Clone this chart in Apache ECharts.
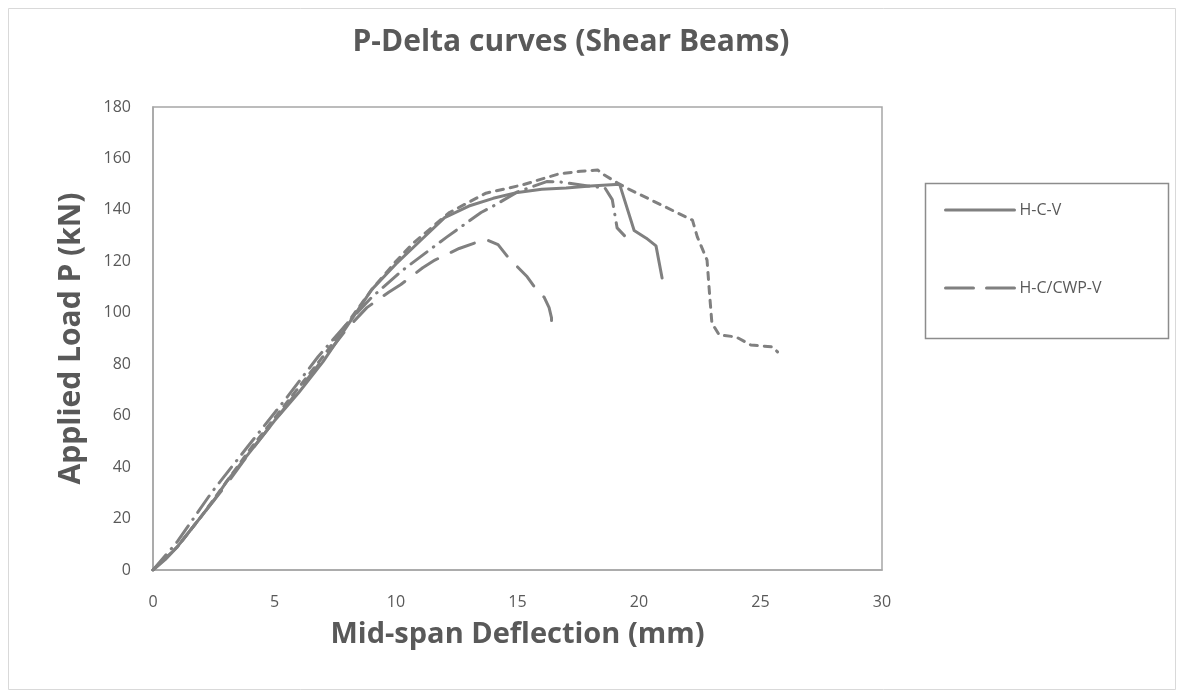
<!DOCTYPE html>
<html>
<head>
<meta charset="utf-8">
<script src="https://cdn.jsdelivr.net/npm/echarts@6/dist/echarts.min.js"></script>
<style>
  html, body { margin: 0; padding: 0; background: #fff; }
  #chart-container { width: 1184px; height: 696px; }
</style>
</head>
<body>
<div id="chart-container"></div>
<script>
// Mid-span deflection (mm) vs applied load (kN)
var hcv = [
  [0, 0], [0.5, 4], [1, 9], [1.5, 15], [2, 21], [2.5, 27], [3, 34], [3.5, 40],
  [4, 46], [4.5, 52], [5, 58], [6, 69], [7, 81], [8, 95], [9, 109], [10, 119],
  [11, 128], [12, 137], [13, 141.5], [14, 144.5], [15, 146.8], [16, 148],
  [17, 148.5], [18, 149.3], [19.2, 150], [19.8, 132], [20.3, 129], [20.7, 126],
  [20.95, 113.5]
];
var hcCwpV = [
  [0, 0], [1, 9], [2, 21], [3, 33], [4, 46], [5, 58], [6, 70], [7, 82], [8, 94],
  [8.8, 102], [9.7, 108], [10.2, 111], [11.1, 117.5], [11.6, 120.5], [12.6, 125],
  [13.2, 127], [13.7, 128.5], [14.2, 126.5], [14.6, 121.7], [15.4, 114],
  [15.7, 110], [16.1, 106], [16.3, 102], [16.4, 98], [16.4, 92]
];
var dashDot = [
  [0, 0], [1, 11], [2.4, 30], [3.9, 48], [5.5, 67], [6.8, 83], [8, 96], [9, 106],
  [10.2, 116], [11.6, 126], [12.1, 129.5], [13.5, 139], [14.1, 142], [15, 147],
  [16.2, 151], [16.8, 150.8], [17.9, 149.3], [18.6, 148.5], [18.9, 144],
  [19.1, 133], [19.4, 130]
];
var shortDash = [
  [0, 0], [1, 9], [2, 21], [3, 34], [4, 47], [5, 59], [6, 71], [7, 83], [8, 96],
  [9, 109], [10, 120], [10.7, 127], [12.2, 139], [13.7, 146.5], [15.2, 149.7],
  [16.7, 154], [17.6, 155], [18.3, 155.5], [18.5, 154], [19.2, 150], [19.6, 148],
  [22.2, 136], [22.4, 129.5], [22.8, 120.5], [22.9, 107.7], [23.0, 96],
  [23.3, 91.4], [24.0, 90.6], [24.6, 87.5], [25.5, 86.7], [25.7, 84.8]
];
var legendNames = ['H-C-V', 'H-C/CWP-V'];

var grey = '#808080';
var textColor = '#595959';
var font = '"Open Sans", sans-serif';

function lineSeries(name, data, dash) {
  return {
    name: name,
    type: 'line',
    data: data,
    symbol: 'none',
    smooth: false,
    lineStyle: { color: grey, width: 3, type: dash, cap: 'round', join: 'round' },
    itemStyle: { color: grey }
  };
}

var myChart = echarts.init(document.getElementById('chart-container'));

var option = {
  backgroundColor: '#fff',
  animation: false,
  title: {
    text: 'P-Delta curves (Shear Beams)',
    left: 566,
    top: 22,
    textAlign: 'center',
    textStyle: { color: textColor, fontSize: 30, fontWeight: 'bold', fontFamily: font }
  },
  legend: {
    data: [
      { name: legendNames[0], lineStyle: { type: 'solid', width: 3, color: grey, cap: 'round' } },
      { name: legendNames[1], lineStyle: { type: [28, 13], width: 3, color: grey, cap: 'round' } }
    ],
    orient: 'vertical',
    left: 939,
    top: 197,
    itemWidth: 69,
    itemHeight: 14,
    itemGap: 62,
    itemStyle: { opacity: 0 },
    textStyle: { color: textColor, fontSize: 16, fontFamily: font }
  },
  graphic: [
    {
      type: 'rect',
      shape: { x: 8.5, y: 8.5, width: 1167, height: 681 },
      style: { fill: 'none', stroke: '#d9d9d9', lineWidth: 1 },
      silent: true
    },
    {
      type: 'rect',
      shape: { x: 925.5, y: 183.5, width: 243, height: 155 },
      style: { fill: 'none', stroke: '#8c8c8c', lineWidth: 1.5 },
      silent: true
    }
  ],
  grid: {
    left: 153,
    top: 107,
    width: 729,
    height: 463,
    show: true,
    borderColor: '#a6a6a6',
    borderWidth: 1.5,
    backgroundColor: '#fff'
  },
  xAxis: {
    type: 'value',
    min: 0,
    max: 30,
    interval: 5,
    name: 'Mid-span Deflection (mm)',
    nameLocation: 'middle',
    nameGap: 50,
    nameTextStyle: { color: textColor, fontSize: 29, fontWeight: 'bold', fontFamily: font },
    axisLine: { show: true, lineStyle: { color: '#a6a6a6', width: 1.5 } },
    axisTick: { show: false },
    splitLine: { show: false },
    axisLabel: { color: textColor, fontSize: 16, fontFamily: font, margin: 24 }
  },
  yAxis: {
    type: 'value',
    min: 0,
    max: 180,
    interval: 20,
    name: 'Applied Load P (kN)',
    nameLocation: 'middle',
    nameGap: 67,
    nameRotate: 90,
    nameTextStyle: { color: textColor, fontSize: 30, fontWeight: 'bold', fontFamily: font },
    axisLine: { show: true, lineStyle: { color: '#a6a6a6', width: 1.5 } },
    axisTick: { show: false },
    splitLine: { show: false },
    axisLabel: { color: textColor, fontSize: 16, fontFamily: font, margin: 22 }
  },
  series: [
    lineSeries('H-C-V', hcv, 'solid'),
    lineSeries('H-C/CWP-V', hcCwpV, [25, 15]),
    lineSeries('dash-dot', dashDot, [20, 8, 0.5, 8]),
    lineSeries('short-dash', shortDash, [7, 7])
  ]
};

myChart.setOption(option);
</script>
</body>
</html>
